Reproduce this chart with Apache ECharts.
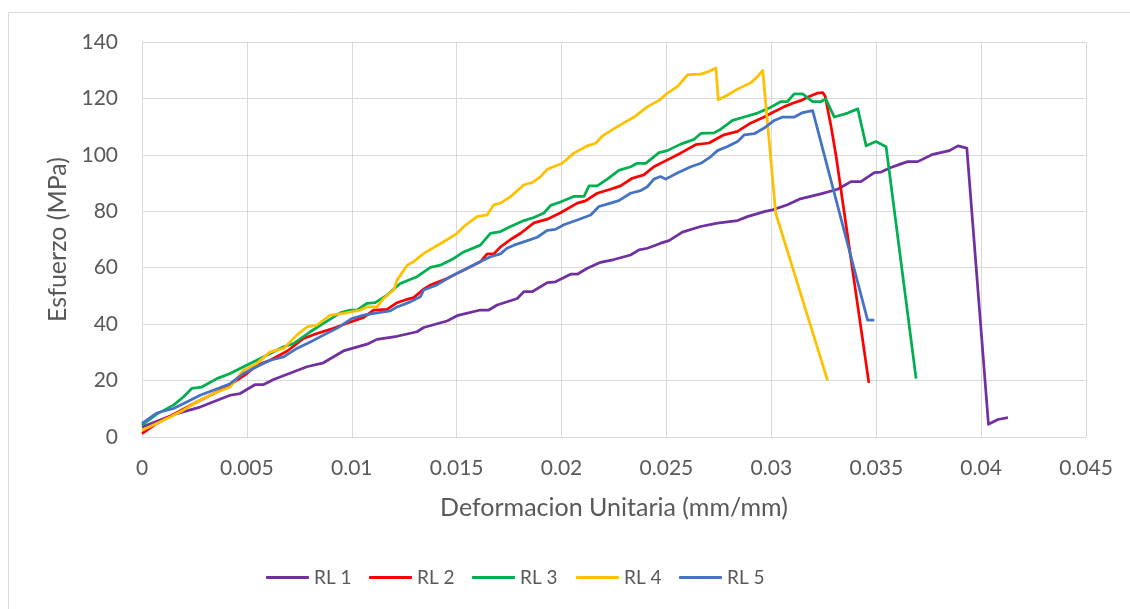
<!DOCTYPE html>
<html>
<head>
<meta charset="utf-8">
<script src="https://cdn.jsdelivr.net/npm/echarts@6/dist/echarts.min.js"></script>
<style>
  html, body { margin: 0; padding: 0; background: #fff; }
  #chart { width: 1130px; height: 609px; }
</style>
</head>
<body>
<div id="chart"></div>
<script>
// strain (mm/mm) vs stress (MPa)
const seriesNames = ['RL 1', 'RL 2', 'RL 3', 'RL 4', 'RL 5'];
const seriesColors = ['#7030A0', '#FF0000', '#00B050', '#FFC000', '#4472C4'];
const xTicks = [0, 0.005, 0.01, 0.015, 0.02, 0.025, 0.03, 0.035, 0.04, 0.045];
const yTicks = [0, 20, 40, 60, 80, 100, 120, 140];

const rl1 = [[0,3.5],[0.00102,6.5],[0.00166,8.3],[0.00277,10.6],[0.0042,14.8],[0.00468,15.4],[0.0054,18.6],[0.0058,18.6],[0.00627,20.4],[0.00786,24.9],[0.00865,26.3],[0.0096,30.5],[0.01073,32.9],[0.0112,34.6],[0.01216,35.7],[0.01311,37.3],[0.01343,38.8],[0.01454,41.1],[0.01502,43],[0.01613,45],[0.01653,45],[0.01693,46.8],[0.01789,49.1],[0.0182,51.5],[0.0186,51.5],[0.01932,54.7],[0.01971,55],[0.02043,57.7],[0.02075,57.7],[0.02123,59.8],[0.02186,61.9],[0.0225,62.9],[0.02329,64.5],[0.02369,66.3],[0.02409,66.9],[0.02473,68.7],[0.02512,69.6],[0.02576,72.6],[0.02663,74.6],[0.02743,75.8],[0.02839,76.7],[0.02886,78.1],[0.02966,79.9],[0.03006,80.5],[0.03077,82.3],[0.03133,84.3],[0.03236,86.2],[0.03316,87.8],[0.0338,90.5],[0.03427,90.5],[0.03491,93.7],[0.03523,93.9],[0.0357,95.5],[0.03618,96.8],[0.0365,97.6],[0.03698,97.6],[0.0377,100.2],[0.03849,101.5],[0.03889,103.2],[0.03932,102.4],[0.04035,4.5],[0.0408,6.2],[0.04128,6.9]];

const rl2 = [[0,1.2],[0.0007,4.8],[0.0015,8],[0.00261,12.4],[0.00309,14.2],[0.00404,17.7],[0.005,22.5],[0.00547,25.4],[0.00611,27.2],[0.00691,30.4],[0.0077,34.9],[0.00834,36.7],[0.00913,38.5],[0.00977,40.3],[0.01057,42.4],[0.01104,45],[0.01168,45.2],[0.01216,47.6],[0.01264,48.8],[0.01295,49.4],[0.01343,52.4],[0.01375,53.9],[0.01454,56.2],[0.01502,58],[0.01613,62.1],[0.01645,64.9],[0.01677,64.9],[0.01709,67.4],[0.01757,70],[0.01805,72.2],[0.01868,75.9],[0.01932,77.2],[0.01995,79.5],[0.02075,82.9],[0.02114,83.7],[0.0217,86.4],[0.02233,87.8],[0.02281,89],[0.02337,91.7],[0.02392,92.9],[0.0244,95.8],[0.02488,97.6],[0.02567,100.6],[0.02639,103.6],[0.02703,104.2],[0.02774,107.1],[0.02839,108.3],[0.02895,111],[0.02966,113.4],[0.03006,115],[0.03062,117.1],[0.03102,118.3],[0.03142,119.3],[0.03181,120.7],[0.03221,121.9],[0.03245,122.1],[0.03257,120.7],[0.03285,110],[0.03309,99.4],[0.03465,19.2]];

const rl3 = [[0,4.2],[0.0007,8.1],[0.0015,11.3],[0.00197,14.2],[0.00237,17.2],[0.00285,17.7],[0.00357,20.7],[0.0042,22.5],[0.00484,24.9],[0.00547,27.2],[0.00611,29.6],[0.00675,32],[0.00722,33.1],[0.00802,37.3],[0.00865,40.3],[0.00945,44],[0.00993,45],[0.01025,45],[0.01073,47.4],[0.01112,47.6],[0.01168,50.3],[0.01231,54.4],[0.01311,56.8],[0.01375,60.1],[0.01422,60.9],[0.01486,63.3],[0.01534,65.6],[0.01613,68],[0.01661,72.2],[0.01709,72.8],[0.01757,74.6],[0.01821,76.7],[0.01868,77.8],[0.01916,79.4],[0.01948,82.1],[0.01995,83.3],[0.0206,85.3],[0.02107,85.3],[0.02131,89],[0.0217,89],[0.02218,91.4],[0.02273,94.5],[0.0233,95.8],[0.02361,97],[0.02401,97],[0.02465,100.8],[0.02504,101.5],[0.02568,103.8],[0.02632,105.5],[0.02664,107.6],[0.02727,107.8],[0.02759,109.1],[0.02815,112.2],[0.0287,113.4],[0.02934,114.8],[0.02998,116.9],[0.03046,118.9],[0.03077,118.9],[0.03109,121.6],[0.03149,121.6],[0.03197,118.9],[0.03237,118.9],[0.0326,119.8],[0.033,113.4],[0.03364,114.8],[0.03412,116.3],[0.03452,103.2],[0.03499,104.7],[0.03547,102.9],[0.0369,20.7]];

const rl4 = [[0,2.4],[0.0007,4.8],[0.00134,7.1],[0.00197,9.5],[0.00261,12.4],[0.0034,15.4],[0.0042,17.7],[0.00484,23.7],[0.00547,26],[0.00611,30.2],[0.00675,31.4],[0.00738,36.1],[0.00786,39],[0.00834,39.7],[0.00897,43.2],[0.00961,43.8],[0.01041,45],[0.01073,46.1],[0.0112,46.1],[0.01152,49.1],[0.012,52.1],[0.01216,55.6],[0.01264,60.9],[0.01295,62.1],[0.01343,65.1],[0.01438,69.2],[0.01502,72.2],[0.01534,74.6],[0.01597,78.1],[0.01645,78.7],[0.01677,82.3],[0.01709,82.9],[0.01757,85.2],[0.01821,89.4],[0.0186,90.2],[0.019,92.3],[0.01932,94.9],[0.02003,97],[0.02059,100.6],[0.02123,103.2],[0.02163,104.1],[0.02195,106.7],[0.02266,110],[0.02346,113.4],[0.0241,117.1],[0.02465,119.3],[0.02505,121.9],[0.02553,124.3],[0.02601,128.4],[0.02664,128.6],[0.02704,129.6],[0.02736,130.8],[0.02747,119.5],[0.02775,120.5],[0.02839,123.3],[0.02903,125.6],[0.02935,127.8],[0.02959,129.9],[0.03021,79.3],[0.03268,20.1]];

const rl5 = [[0,4.8],[0.0007,8.5],[0.0015,10.1],[0.00213,12.4],[0.00277,14.8],[0.0034,16.6],[0.0042,18.9],[0.00484,22.5],[0.00547,24.9],[0.00611,27.2],[0.00675,28.4],[0.00738,31.4],[0.00802,33.7],[0.00865,36.1],[0.00929,38.5],[0.01001,42],[0.01057,43.2],[0.0112,44],[0.01184,44.7],[0.01216,46.1],[0.01279,47.9],[0.01327,49.7],[0.01343,52.1],[0.01406,53.9],[0.0147,56.8],[0.01534,59.2],[0.01597,61.6],[0.01661,63.9],[0.01709,64.9],[0.0174,66.9],[0.01773,68],[0.01837,69.6],[0.01884,70.8],[0.01932,73.2],[0.01971,73.6],[0.02011,75.2],[0.02075,76.9],[0.02139,78.7],[0.02178,81.7],[0.02234,82.9],[0.02273,83.8],[0.02329,86.4],[0.02377,87.3],[0.02409,88.7],[0.0244,91.4],[0.02472,92.3],[0.02496,91.4],[0.02552,93.6],[0.02616,95.8],[0.02664,97],[0.02712,99.4],[0.02743,101.5],[0.02791,103],[0.02839,104.7],[0.02871,107.1],[0.02919,107.5],[0.02966,109.5],[0.03014,112.2],[0.03054,113.4],[0.0311,113.4],[0.0315,115],[0.03197,115.7],[0.03459,41.4],[0.03491,41.4]];

const allSeries = [rl1, rl2, rl3, rl4, rl5];

const chart = echarts.init(document.getElementById('chart'));
const font = 'Lato, "Open Sans", sans-serif';
const gray = '#595959';
const gridColor = '#d9d9d9';

// one legend per entry so each item sits where Excel put it
const legendLeft = [266, 369, 472, 576, 679];
const legends = seriesNames.map((name, i) => ({
  data: [name],
  left: legendLeft[i],
  top: 568,
  padding: 0,
  icon: 'roundRect',
  itemWidth: 43,
  itemHeight: 3,
  textStyle: { color: gray, fontSize: 19, fontFamily: font }
}));

chart.setOption({
  animation: false,
  textStyle: { fontFamily: font },
  graphic: [{
    type: 'rect',
    shape: { x: 8.5, y: 12.5, width: 1140, height: 640 },
    style: { fill: 'none', stroke: '#d9d9d9', lineWidth: 1 },
    silent: true
  }],
  grid: { left: 142, right: 44, top: 42, bottom: 172 },
  legend: legends,
  xAxis: {
    type: 'value',
    min: xTicks[0],
    max: xTicks[xTicks.length - 1],
    interval: xTicks[1] - xTicks[0],
    name: 'Deformacion Unitaria (mm/mm)',
    nameLocation: 'middle',
    nameGap: 58,
    nameTextStyle: { color: gray, fontSize: 25, fontFamily: font },
    axisLine: { lineStyle: { color: gridColor, width: 1 } },
    axisTick: { show: false },
    axisLabel: {
      color: gray, fontSize: 21, margin: 21, fontFamily: font,
      formatter: v => String(parseFloat(v.toFixed(3)))
    },
    splitLine: { show: true, lineStyle: { color: gridColor, width: 1 } }
  },
  yAxis: {
    type: 'value',
    min: yTicks[0],
    max: yTicks[yTicks.length - 1],
    interval: yTicks[1] - yTicks[0],
    name: 'Esfuerzo (MPa)',
    nameLocation: 'middle',
    nameGap: 69,
    nameTextStyle: { color: gray, fontSize: 25, fontFamily: font },
    axisLine: { show: true, lineStyle: { color: gridColor, width: 1 } },
    axisTick: { show: false },
    axisLabel: { color: gray, fontSize: 21, margin: 24, fontFamily: font },
    splitLine: { show: true, lineStyle: { color: gridColor, width: 1 } }
  },
  series: allSeries.map((d, i) => ({
    name: seriesNames[i],
    type: 'line',
    data: d,
    showSymbol: false,
    symbol: 'none',
    color: seriesColors[i],
    lineStyle: { width: 2.75, color: seriesColors[i], join: 'round' }
  }))
});
</script>
</body>
</html>
